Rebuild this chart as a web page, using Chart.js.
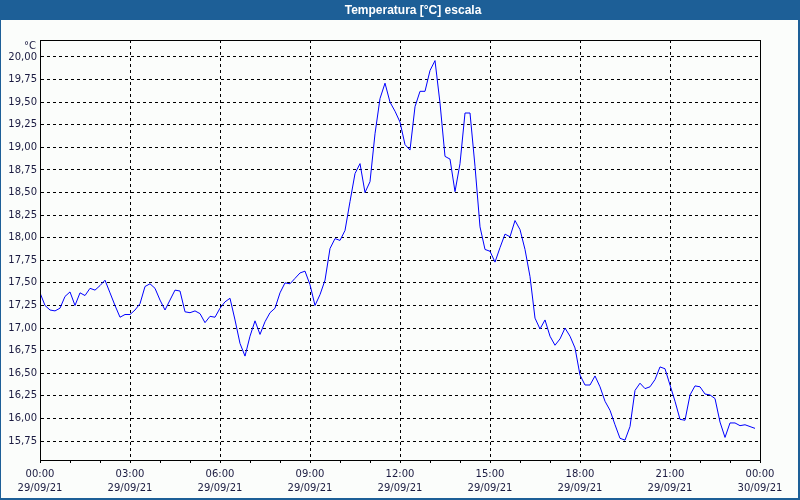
<!DOCTYPE html>
<html><head><meta charset="utf-8">
<script src="https://cdn.jsdelivr.net/npm/chart.js@4/dist/chart.umd.min.js"></script>
<style>html,body{margin:0;padding:0;background:#fff}canvas{display:block}</style>
</head><body>
<canvas id="c" width="800" height="500"></canvas>
<script>
const chartTitle = 'Temperatura [°C] escala';
const unitLabel = '°C';
const stepMinutes = 10; // one reading every 10 minutes from 00:00
const temperatures = [
  17.39,17.25,17.20,17.19,17.22,17.35,17.40,17.25,17.39,17.36,17.44,17.42,
  17.47,17.53,17.39,17.25,17.12,17.15,17.15,17.20,17.27,17.46,17.49,17.44,
  17.31,17.20,17.31,17.42,17.41,17.18,17.17,17.19,17.16,17.06,17.13,17.12,
  17.22,17.29,17.33,17.09,16.83,16.69,16.91,17.08,16.93,17.07,17.17,17.22,
  17.39,17.50,17.49,17.55,17.61,17.63,17.48,17.25,17.37,17.53,17.88,17.99,
  17.97,18.08,18.40,18.71,18.82,18.50,18.62,19.15,19.54,19.71,19.50,19.40,
  19.28,19.03,18.97,19.45,19.62,19.62,19.85,19.96,19.49,18.90,18.87,18.51,
  18.82,19.38,19.38,18.79,18.12,17.87,17.85,17.73,17.89,18.04,18.01,18.19,
  18.09,17.87,17.57,17.11,16.99,17.09,16.91,16.81,16.88,17.00,16.91,16.78,
  16.48,16.37,16.37,16.47,16.35,16.19,16.09,15.93,15.78,15.76,15.91,16.31,
  16.39,16.33,16.35,16.43,16.57,16.55,16.37,16.19,15.99,15.98,16.26,16.36,
  16.35,16.27,16.26,16.22,15.96,15.79,15.95,15.95,15.92,15.93,15.91,15.89
];
const xTickMinutes = [0,180,360,540,720,900,1080,1260,1440];
const xTickLabels = [
  ['00:00','29/09/21'],['03:00','29/09/21'],['06:00','29/09/21'],['09:00','29/09/21'],
  ['12:00','29/09/21'],['15:00','29/09/21'],['18:00','29/09/21'],['21:00','29/09/21'],
  ['00:00','30/09/21']
];
const xMinorTickMinutes = [0,60,120,180,240,300,360,420,480,540,600,660,720,780,840,900,960,1020,1080,1140,1200,1260,1320,1380,1440];
const yTicks = [15.75,16.00,16.25,16.50,16.75,17.00,17.25,17.50,17.75,18.00,18.25,18.50,18.75,19.00,19.25,19.50,19.75,20.00];
const yMin = 15.54, yMax = 20.188;

const points = temperatures.map((v, i) => ({x: i * stepMinutes, y: v}));
const textColor = '#1a1a40';
const frameBlue = '#1d5f97';

const decor = {
  id: 'decor',
  beforeDraw(chart) {
    const c = chart.ctx;
    c.save();
    c.fillStyle = '#fbfdfb';
    c.fillRect(0, 0, 800, 500);
    c.fillStyle = frameBlue;
    c.fillRect(0, 0, 800, 20);
    c.fillRect(0, 0, 1, 500);
    c.fillRect(798, 0, 2, 500);
    c.fillRect(0, 498, 800, 2);
    c.fillStyle = '#ffffff';
    c.font = 'bold 12px "Liberation Sans", Arial, sans-serif';
    c.textAlign = 'center';
    c.textBaseline = 'middle';
    c.fillText(chartTitle, 413, 10.5);
    c.restore();
  },
  afterDatasetsDraw(chart) {
    const c = chart.ctx, a = chart.chartArea;
    c.save();
    c.setLineDash([]);
    c.strokeStyle = '#000';
    c.lineWidth = 1;
    c.strokeRect(a.left + 0.5, a.top + 0.5, a.right - a.left, a.bottom - a.top);
    c.fillStyle = textColor;
    c.font = '10px "DejaVu Sans", sans-serif';
    c.textAlign = 'right';
    c.textBaseline = 'middle';
    c.fillText(unitLabel, 36, 46);
    c.restore();
  }
};

new Chart(document.getElementById('c'), {
  type: 'line',
  data: { datasets: [{ data: points, borderColor: '#0000ff', borderWidth: 1, pointRadius: 0, tension: 0, fill: false }] },
  options: {
    responsive: false, animation: false, devicePixelRatio: 1,
    layout: { padding: { top: 40, right: 40, left: 0, bottom: 0 } },
    plugins: { legend: { display: false }, tooltip: { enabled: false }, title: { display: false } },
    scales: {
      x: {
        type: 'linear', min: 0, max: 1440,
        afterBuildTicks: s => { s.ticks = xMinorTickMinutes.map(v => ({ value: v })); },
        afterFit: s => { s.height = 40; },
        ticks: {
          autoSkip: false, maxRotation: 0, minRotation: 0, padding: 4,
          color: textColor, font: { family: '"DejaVu Sans", sans-serif', size: 10, lineHeight: 1.4 },
          callback: v => { const i = xTickMinutes.indexOf(v); return i >= 0 ? xTickLabels[i] : ''; }
        },
        grid: {
          color: ctx => (ctx.tick && xTickMinutes.indexOf(ctx.tick.value) >= 0) ? '#000' : 'rgba(0,0,0,0)',
          tickBorderDash: [], tickColor: '#000', tickLength: 3, lineWidth: 1
        },
        border: { display: true, color: '#000', dash: [3, 3] }
      },
      y: {
        type: 'linear', min: yMin, max: yMax,
        afterBuildTicks: s => { s.ticks = yTicks.map(v => ({ value: v })); },
        afterFit: s => { s.width = 40; },
        ticks: {
          padding: 3, color: textColor, font: { family: '"DejaVu Sans", sans-serif', size: 10 },
          callback: v => v.toFixed(2).replace('.', ',')
        },
        grid: { color: '#000', drawTicks: false, lineWidth: 1 },
        border: { display: true, color: '#000', dash: [3, 3] }
      }
    }
  },
  plugins: [decor]
});
</script>
</body></html>
